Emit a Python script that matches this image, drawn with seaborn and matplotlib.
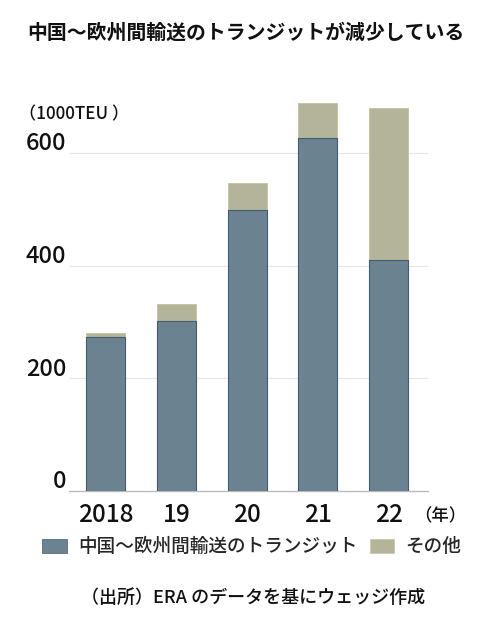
import matplotlib
matplotlib.use("Agg")
import matplotlib.pyplot as plt
import matplotlib.transforms as mtransforms
import seaborn as sns
import pandas as pd
from matplotlib.patches import Patch

years = ["2018", "19", "20", "21", "22"]
transit = [274, 302, 500, 627, 410]
other = [6, 30, 47, 63, 270]
yticks = [0, 200, 400, 600]

title = "中国～欧州間輸送のトランジットが減少している"
unit = "（1000TEU ）"
legend_labels = ["中国～欧州間輸送のトランジット", "その他"]
source = "（出所）ERA のデータを基にウェッジ作成"

sns.set_theme(style="white")
plt.rcParams['font.family'] = ['Noto Sans CJK JP', 'DejaVu Sans']
plt.rcParams['font.weight'] = 'medium'

total = [a + b for a, b in zip(transit, other)]
df = pd.DataFrame({"year": years, "transit": transit, "total": total})

blue = "#6b8391"
blue_edge = "#3f5c72"
tan = "#b4b49b"
tan_edge = "#c9c5a0"

fig = plt.figure(figsize=(4.8, 6.17), dpi=100)
ax = fig.add_axes([0.144, 0.2042, 0.748, 0.6386])

sns.barplot(data=df, x="year", y="total", color=tan, width=0.55,
            edgecolor=tan_edge, linewidth=0.7, ax=ax, saturation=1, zorder=2)
sns.barplot(data=df, x="year", y="transit", color=blue, width=0.55,
            edgecolor=blue_edge, linewidth=0.8, ax=ax, saturation=1, zorder=3)

ax.set_xlim(-0.52, 4.56)
ax.set_ylim(0, 700)
ax.set_yticks(yticks)
ax.set_yticklabels([str(v) for v in yticks], fontsize=17, color="#111111",
                   va="bottom", fontweight="medium")
ax.tick_params(axis="y", length=0, pad=2)
ax.set_xticks(range(len(years)))
ax.set_xticklabels(years, fontsize=17.5, color="#111111", fontweight="medium")
ax.tick_params(axis="x", length=0, pad=8)
ax.set_xlabel("")
ax.set_ylabel("")
for s in ["top", "right", "left"]:
    ax.spines[s].set_visible(False)
ax.spines["bottom"].set_color("#bbbbbb")
ax.spines["bottom"].set_linewidth(1.0)
for v in yticks[1:]:
    ax.axhline(v, color="#e6e6e6", linewidth=0.8, zorder=1)

offset = mtransforms.ScaledTranslation(0, -1.5 / 72, fig.dpi_scale_trans)
for lab in ax.get_yticklabels():
    lab.set_transform(lab.get_transform() + offset)

fig.text(0.056, 0.948, title, fontsize=14.3, fontweight="bold", color="#111111", va="center")
fig.text(0.040, 0.814, unit, fontsize=12.3, color="#111111", va="center")
fig.text(0.862, 0.163, "（年）", fontsize=12.5, color="#111111", va="center")

handles = [Patch(facecolor=blue, edgecolor=blue_edge, linewidth=0.5),
           Patch(facecolor=tan, edgecolor=tan_edge, linewidth=0.5)]
fig.legend(handles, legend_labels, loc="center", bbox_to_anchor=(0.525, 0.114), ncol=2,
           frameon=False, fontsize=13.4, handlelength=1.3, handleheight=0.8,
           handletextpad=0.6, columnspacing=0.7)

fig.text(0.528, 0.031, source, fontsize=13, color="#111111", ha="center", va="center")

fig.savefig("out.png", dpi=100)
